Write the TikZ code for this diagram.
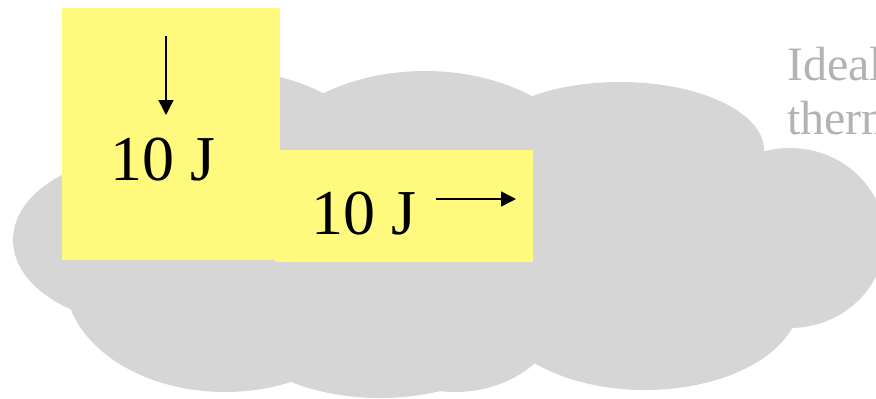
\documentclass[tikz,border=0pt]{standalone}
\usepackage{fontspec}
\setmainfont{Liberation Serif}
\usetikzlibrary{arrows.meta}
\definecolor{cloudgray}{RGB}{214,214,214}
\definecolor{boxyellow}{RGB}{255,250,125}
\definecolor{labelgray}{RGB}{179,179,179}
\begin{document}
\begin{tikzpicture}[x=1pt,y=-1pt,
  lobe/.style={fill=cloudgray},
  panel/.style={fill=boxyellow},
  energy/.style={inner sep=0pt, anchor=base west, font=\fontsize{64}{77}\selectfont},
  caption/.style={inner sep=0pt, anchor=base west, text=labelgray, font=\fontsize{48}{54}\selectfont},
  flow/.style={line width=1.5pt, -{Triangle[length=15pt,width=15pt]}}]
\useasboundingbox (0,0) rectangle (876,399);
\clip (0,0) rectangle (876,399);
% cloud
\fill[lobe] (450,240) ellipse [x radius=330pt, y radius=120pt];
\fill[lobe] (150,240) ellipse [x radius=137pt, y radius=85pt];
\fill[lobe] (225,279) ellipse [x radius=160pt, y radius=113pt];
\fill[lobe] (380,315) ellipse [x radius=150pt, y radius=83pt];
\fill[lobe] (455,300) ellipse [x radius=110pt, y radius=92pt];
\fill[lobe] (645,300) ellipse [x radius=155pt, y radius=90pt];
\fill[lobe] (790,238) ellipse [x radius=95pt, y radius=90pt];
\fill[lobe] (620,150) ellipse [x radius=144pt, y radius=68pt];
\fill[lobe] (425,184) ellipse [x radius=170pt, y radius=113pt];
\fill[lobe] (220,155) ellipse [x radius=150pt, y radius=85pt];
% yellow panels
\fill[panel] (62,8) rectangle (280,260);
\fill[panel] (275,150) rectangle (533,262);
% labels
\node[energy] (q1) at (110,180) {10 J};
\node[energy] (q2) at (311,234) {10 J};
\node[caption] (c1) at (787,80) {Ideal};
\node[caption] (c2) at (787,134) {therm};
% arrows
\coordinate (a1s) at (166,36);
\coordinate (a1e) at (166,115);
\coordinate (a2s) at (436,199);
\coordinate (a2e) at (516,199);
\draw[flow] (a1s) -- (a1e);
\draw[flow] (a2s) -- (a2e);
\end{tikzpicture}
\end{document}
